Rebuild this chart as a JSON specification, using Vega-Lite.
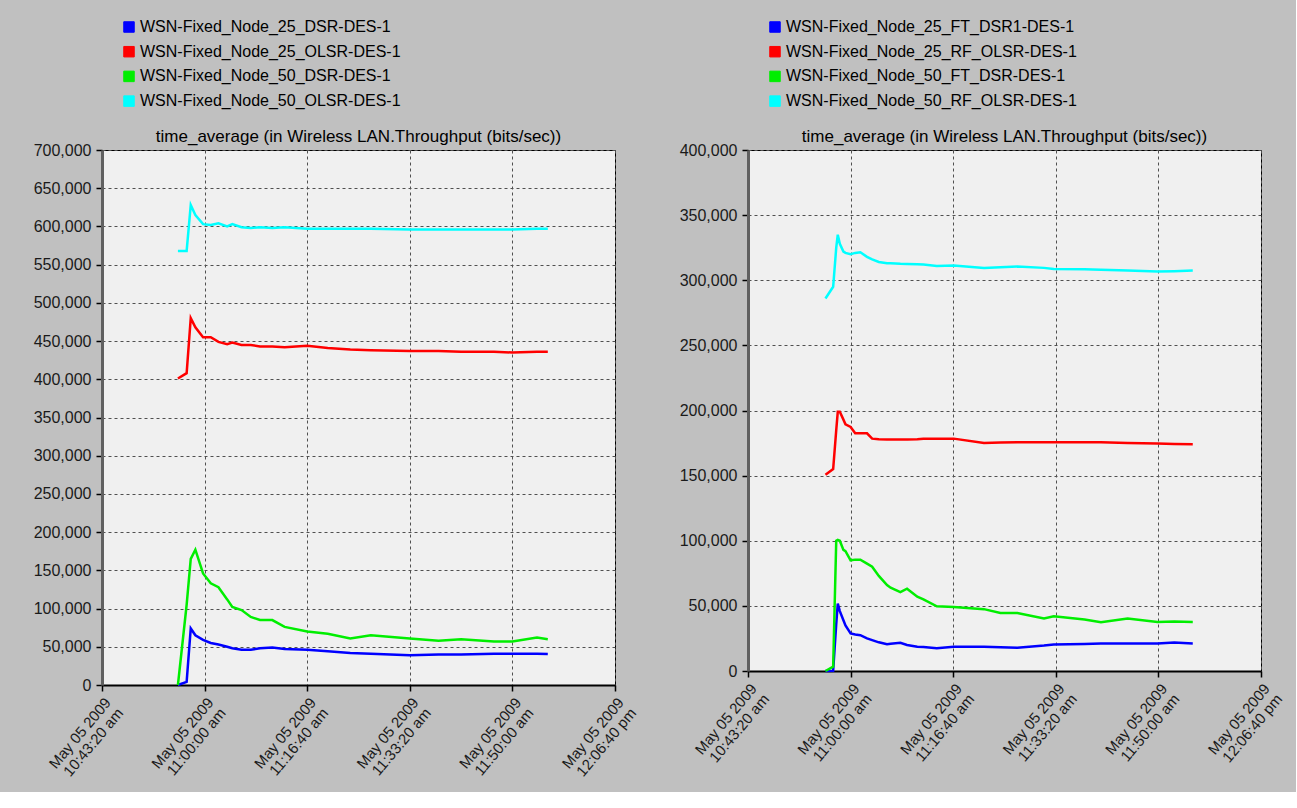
{
  "$schema": "https://vega.github.io/schema/vega-lite/v6.json",
  "background": "#c0c0c0",
  "padding": {"left": 32, "top": 18, "right": 10, "bottom": 10},
  "spacing": 133,
  "bounds": "flush",
  "config": {
    "font": "Liberation Sans",
    "view": {"fill": "#f0f0f0", "stroke": "#000000", "strokeWidth": 1},
    "axis": {
      "grid": true, "gridColor": "#505050", "gridDash": [3, 3], "gridWidth": 1,
      "domainColor": "#303030", "domainWidth": 2,
      "tickColor": "#000000", "tickSize": 6, "tickWidth": 1.5,
      "labelColor": "#1a1a1a", "labelFontSize": 16, "labelPadding": 5,
      "title": null
    },
    "title": {"fontSize": 17, "fontWeight": "normal", "color": "#000000", "anchor": "middle", "frame": "group"},
    "legend": {
      "orient": "none", "title": null, "symbolType": "square", "symbolSize": 110,
      "labelFontSize": 16, "labelColor": "#000000", "rowPadding": 8.7, "labelOffset": 3, "labelLimit": 0
    }
  },
  "hconcat": [
    {
      "width": 513, "height": 535,
      "title": {"text": "time_average (in Wireless LAN.Throughput (bits/sec))", "offset": 6, "dy": 133},
      "data": {"values": [
        {"t": "2009-05-05T10:55:40", "s": "WSN-Fixed_Node_25_DSR-DES-1", "v": 0},
        {"t": "2009-05-05T10:57:05", "s": "WSN-Fixed_Node_25_DSR-DES-1", "v": 4000},
        {"t": "2009-05-05T10:57:45", "s": "WSN-Fixed_Node_25_DSR-DES-1", "v": 74000},
        {"t": "2009-05-05T10:58:30", "s": "WSN-Fixed_Node_25_DSR-DES-1", "v": 65000},
        {"t": "2009-05-05T10:59:45", "s": "WSN-Fixed_Node_25_DSR-DES-1", "v": 59000},
        {"t": "2009-05-05T11:01:00", "s": "WSN-Fixed_Node_25_DSR-DES-1", "v": 55000},
        {"t": "2009-05-05T11:02:15", "s": "WSN-Fixed_Node_25_DSR-DES-1", "v": 53000},
        {"t": "2009-05-05T11:03:40", "s": "WSN-Fixed_Node_25_DSR-DES-1", "v": 50000},
        {"t": "2009-05-05T11:04:30", "s": "WSN-Fixed_Node_25_DSR-DES-1", "v": 48000},
        {"t": "2009-05-05T11:06:00", "s": "WSN-Fixed_Node_25_DSR-DES-1", "v": 46000},
        {"t": "2009-05-05T11:07:30", "s": "WSN-Fixed_Node_25_DSR-DES-1", "v": 46000},
        {"t": "2009-05-05T11:09:00", "s": "WSN-Fixed_Node_25_DSR-DES-1", "v": 48000},
        {"t": "2009-05-05T11:11:00", "s": "WSN-Fixed_Node_25_DSR-DES-1", "v": 49000},
        {"t": "2009-05-05T11:13:00", "s": "WSN-Fixed_Node_25_DSR-DES-1", "v": 47000},
        {"t": "2009-05-05T11:16:40", "s": "WSN-Fixed_Node_25_DSR-DES-1", "v": 46000},
        {"t": "2009-05-05T11:20:00", "s": "WSN-Fixed_Node_25_DSR-DES-1", "v": 44000},
        {"t": "2009-05-05T11:23:40", "s": "WSN-Fixed_Node_25_DSR-DES-1", "v": 42000},
        {"t": "2009-05-05T11:27:00", "s": "WSN-Fixed_Node_25_DSR-DES-1", "v": 41000},
        {"t": "2009-05-05T11:33:20", "s": "WSN-Fixed_Node_25_DSR-DES-1", "v": 39000},
        {"t": "2009-05-05T11:38:00", "s": "WSN-Fixed_Node_25_DSR-DES-1", "v": 40000},
        {"t": "2009-05-05T11:41:40", "s": "WSN-Fixed_Node_25_DSR-DES-1", "v": 40000},
        {"t": "2009-05-05T11:47:00", "s": "WSN-Fixed_Node_25_DSR-DES-1", "v": 41000},
        {"t": "2009-05-05T11:50:00", "s": "WSN-Fixed_Node_25_DSR-DES-1", "v": 41000},
        {"t": "2009-05-05T11:54:00", "s": "WSN-Fixed_Node_25_DSR-DES-1", "v": 41000},
        {"t": "2009-05-05T11:55:45", "s": "WSN-Fixed_Node_25_DSR-DES-1", "v": 40500},

        {"t": "2009-05-05T10:55:40", "s": "WSN-Fixed_Node_25_OLSR-DES-1", "v": 401000},
        {"t": "2009-05-05T10:57:05", "s": "WSN-Fixed_Node_25_OLSR-DES-1", "v": 408000},
        {"t": "2009-05-05T10:57:45", "s": "WSN-Fixed_Node_25_OLSR-DES-1", "v": 480000},
        {"t": "2009-05-05T10:58:30", "s": "WSN-Fixed_Node_25_OLSR-DES-1", "v": 468000},
        {"t": "2009-05-05T10:59:45", "s": "WSN-Fixed_Node_25_OLSR-DES-1", "v": 455000},
        {"t": "2009-05-05T11:01:00", "s": "WSN-Fixed_Node_25_OLSR-DES-1", "v": 455000},
        {"t": "2009-05-05T11:02:15", "s": "WSN-Fixed_Node_25_OLSR-DES-1", "v": 449000},
        {"t": "2009-05-05T11:03:40", "s": "WSN-Fixed_Node_25_OLSR-DES-1", "v": 446000},
        {"t": "2009-05-05T11:04:30", "s": "WSN-Fixed_Node_25_OLSR-DES-1", "v": 448000},
        {"t": "2009-05-05T11:06:00", "s": "WSN-Fixed_Node_25_OLSR-DES-1", "v": 445000},
        {"t": "2009-05-05T11:07:30", "s": "WSN-Fixed_Node_25_OLSR-DES-1", "v": 445000},
        {"t": "2009-05-05T11:09:00", "s": "WSN-Fixed_Node_25_OLSR-DES-1", "v": 443000},
        {"t": "2009-05-05T11:11:00", "s": "WSN-Fixed_Node_25_OLSR-DES-1", "v": 443000},
        {"t": "2009-05-05T11:13:00", "s": "WSN-Fixed_Node_25_OLSR-DES-1", "v": 442000},
        {"t": "2009-05-05T11:16:40", "s": "WSN-Fixed_Node_25_OLSR-DES-1", "v": 444000},
        {"t": "2009-05-05T11:20:00", "s": "WSN-Fixed_Node_25_OLSR-DES-1", "v": 441000},
        {"t": "2009-05-05T11:23:40", "s": "WSN-Fixed_Node_25_OLSR-DES-1", "v": 439000},
        {"t": "2009-05-05T11:27:00", "s": "WSN-Fixed_Node_25_OLSR-DES-1", "v": 438000},
        {"t": "2009-05-05T11:33:20", "s": "WSN-Fixed_Node_25_OLSR-DES-1", "v": 437000},
        {"t": "2009-05-05T11:38:00", "s": "WSN-Fixed_Node_25_OLSR-DES-1", "v": 437000},
        {"t": "2009-05-05T11:41:40", "s": "WSN-Fixed_Node_25_OLSR-DES-1", "v": 436000},
        {"t": "2009-05-05T11:47:00", "s": "WSN-Fixed_Node_25_OLSR-DES-1", "v": 436000},
        {"t": "2009-05-05T11:50:00", "s": "WSN-Fixed_Node_25_OLSR-DES-1", "v": 435000},
        {"t": "2009-05-05T11:54:00", "s": "WSN-Fixed_Node_25_OLSR-DES-1", "v": 436000},
        {"t": "2009-05-05T11:55:45", "s": "WSN-Fixed_Node_25_OLSR-DES-1", "v": 436000},

        {"t": "2009-05-05T10:55:40", "s": "WSN-Fixed_Node_50_DSR-DES-1", "v": 0},
        {"t": "2009-05-05T10:57:05", "s": "WSN-Fixed_Node_50_DSR-DES-1", "v": 105000},
        {"t": "2009-05-05T10:57:45", "s": "WSN-Fixed_Node_50_DSR-DES-1", "v": 165000},
        {"t": "2009-05-05T10:58:30", "s": "WSN-Fixed_Node_50_DSR-DES-1", "v": 177000},
        {"t": "2009-05-05T10:59:45", "s": "WSN-Fixed_Node_50_DSR-DES-1", "v": 146000},
        {"t": "2009-05-05T11:01:00", "s": "WSN-Fixed_Node_50_DSR-DES-1", "v": 133000},
        {"t": "2009-05-05T11:02:15", "s": "WSN-Fixed_Node_50_DSR-DES-1", "v": 128000},
        {"t": "2009-05-05T11:03:40", "s": "WSN-Fixed_Node_50_DSR-DES-1", "v": 112000},
        {"t": "2009-05-05T11:04:30", "s": "WSN-Fixed_Node_50_DSR-DES-1", "v": 102000},
        {"t": "2009-05-05T11:06:00", "s": "WSN-Fixed_Node_50_DSR-DES-1", "v": 98000},
        {"t": "2009-05-05T11:07:30", "s": "WSN-Fixed_Node_50_DSR-DES-1", "v": 89000},
        {"t": "2009-05-05T11:09:00", "s": "WSN-Fixed_Node_50_DSR-DES-1", "v": 85000},
        {"t": "2009-05-05T11:11:00", "s": "WSN-Fixed_Node_50_DSR-DES-1", "v": 85000},
        {"t": "2009-05-05T11:13:00", "s": "WSN-Fixed_Node_50_DSR-DES-1", "v": 76000},
        {"t": "2009-05-05T11:16:40", "s": "WSN-Fixed_Node_50_DSR-DES-1", "v": 70000},
        {"t": "2009-05-05T11:20:00", "s": "WSN-Fixed_Node_50_DSR-DES-1", "v": 67000},
        {"t": "2009-05-05T11:23:40", "s": "WSN-Fixed_Node_50_DSR-DES-1", "v": 61000},
        {"t": "2009-05-05T11:27:00", "s": "WSN-Fixed_Node_50_DSR-DES-1", "v": 65000},
        {"t": "2009-05-05T11:33:20", "s": "WSN-Fixed_Node_50_DSR-DES-1", "v": 61000},
        {"t": "2009-05-05T11:38:00", "s": "WSN-Fixed_Node_50_DSR-DES-1", "v": 58000},
        {"t": "2009-05-05T11:41:40", "s": "WSN-Fixed_Node_50_DSR-DES-1", "v": 60000},
        {"t": "2009-05-05T11:47:00", "s": "WSN-Fixed_Node_50_DSR-DES-1", "v": 57000},
        {"t": "2009-05-05T11:50:00", "s": "WSN-Fixed_Node_50_DSR-DES-1", "v": 57000},
        {"t": "2009-05-05T11:54:00", "s": "WSN-Fixed_Node_50_DSR-DES-1", "v": 62000},
        {"t": "2009-05-05T11:55:45", "s": "WSN-Fixed_Node_50_DSR-DES-1", "v": 60000},

        {"t": "2009-05-05T10:55:40", "s": "WSN-Fixed_Node_50_OLSR-DES-1", "v": 568000},
        {"t": "2009-05-05T10:57:05", "s": "WSN-Fixed_Node_50_OLSR-DES-1", "v": 568000},
        {"t": "2009-05-05T10:57:45", "s": "WSN-Fixed_Node_50_OLSR-DES-1", "v": 628000},
        {"t": "2009-05-05T10:58:30", "s": "WSN-Fixed_Node_50_OLSR-DES-1", "v": 615000},
        {"t": "2009-05-05T10:59:45", "s": "WSN-Fixed_Node_50_OLSR-DES-1", "v": 603000},
        {"t": "2009-05-05T11:01:00", "s": "WSN-Fixed_Node_50_OLSR-DES-1", "v": 602000},
        {"t": "2009-05-05T11:02:15", "s": "WSN-Fixed_Node_50_OLSR-DES-1", "v": 604000},
        {"t": "2009-05-05T11:03:40", "s": "WSN-Fixed_Node_50_OLSR-DES-1", "v": 600000},
        {"t": "2009-05-05T11:04:30", "s": "WSN-Fixed_Node_50_OLSR-DES-1", "v": 603000},
        {"t": "2009-05-05T11:06:00", "s": "WSN-Fixed_Node_50_OLSR-DES-1", "v": 599000},
        {"t": "2009-05-05T11:07:30", "s": "WSN-Fixed_Node_50_OLSR-DES-1", "v": 598000},
        {"t": "2009-05-05T11:09:00", "s": "WSN-Fixed_Node_50_OLSR-DES-1", "v": 599000},
        {"t": "2009-05-05T11:11:00", "s": "WSN-Fixed_Node_50_OLSR-DES-1", "v": 598000},
        {"t": "2009-05-05T11:13:00", "s": "WSN-Fixed_Node_50_OLSR-DES-1", "v": 599000},
        {"t": "2009-05-05T11:16:40", "s": "WSN-Fixed_Node_50_OLSR-DES-1", "v": 597000},
        {"t": "2009-05-05T11:20:00", "s": "WSN-Fixed_Node_50_OLSR-DES-1", "v": 597000},
        {"t": "2009-05-05T11:23:40", "s": "WSN-Fixed_Node_50_OLSR-DES-1", "v": 597000},
        {"t": "2009-05-05T11:27:00", "s": "WSN-Fixed_Node_50_OLSR-DES-1", "v": 597000},
        {"t": "2009-05-05T11:33:20", "s": "WSN-Fixed_Node_50_OLSR-DES-1", "v": 596000},
        {"t": "2009-05-05T11:38:00", "s": "WSN-Fixed_Node_50_OLSR-DES-1", "v": 596000},
        {"t": "2009-05-05T11:41:40", "s": "WSN-Fixed_Node_50_OLSR-DES-1", "v": 596000},
        {"t": "2009-05-05T11:47:00", "s": "WSN-Fixed_Node_50_OLSR-DES-1", "v": 596000},
        {"t": "2009-05-05T11:50:00", "s": "WSN-Fixed_Node_50_OLSR-DES-1", "v": 596000},
        {"t": "2009-05-05T11:54:00", "s": "WSN-Fixed_Node_50_OLSR-DES-1", "v": 597000},
        {"t": "2009-05-05T11:55:45", "s": "WSN-Fixed_Node_50_OLSR-DES-1", "v": 597000}
      ]},
      "mark": {"type": "line", "strokeWidth": 2.5},
      "encoding": {
        "x": {
          "field": "t", "type": "temporal",
          "scale": {"domain": [
            {"year": 2009, "month": 5, "date": 5, "hours": 10, "minutes": 43, "seconds": 20},
            {"year": 2009, "month": 5, "date": 5, "hours": 12, "minutes": 6, "seconds": 40}
          ]},
          "axis": {
            "values": [
              {"year": 2009, "month": 5, "date": 5, "hours": 10, "minutes": 43, "seconds": 20},
              {"year": 2009, "month": 5, "date": 5, "hours": 11, "minutes": 0, "seconds": 0},
              {"year": 2009, "month": 5, "date": 5, "hours": 11, "minutes": 16, "seconds": 40},
              {"year": 2009, "month": 5, "date": 5, "hours": 11, "minutes": 33, "seconds": 20},
              {"year": 2009, "month": 5, "date": 5, "hours": 11, "minutes": 50, "seconds": 0},
              {"year": 2009, "month": 5, "date": 5, "hours": 12, "minutes": 6, "seconds": 40}
            ],
            "labelExpr": "[timeFormat(datum.value, '%b %d %Y'), timeFormat(datum.value, '%I:%M:%S ') + lower(timeFormat(datum.value, '%p'))]",
            "labelAngle": -50, "labelAlign": "right", "labelBaseline": "top",
            "labelFontSize": 15, "labelLineHeight": 16, "labelPadding": 4, "domainColor": "#000000"
          }
        },
        "y": {
          "field": "v", "type": "quantitative",
          "scale": {"domain": [0, 700000]},
          "axis": {"values": [0, 50000, 100000, 150000, 200000, 250000, 300000, 350000, 400000, 450000, 500000, 550000, 600000, 650000, 700000], "format": ",d", "domainColor": "#606060", "domainWidth": 3}
        },
        "color": {
          "field": "s", "type": "nominal",
          "scale": {
            "domain": ["WSN-Fixed_Node_25_DSR-DES-1", "WSN-Fixed_Node_25_OLSR-DES-1", "WSN-Fixed_Node_50_DSR-DES-1", "WSN-Fixed_Node_50_OLSR-DES-1"],
            "range": ["#0000ff", "#ff0000", "#00ee00", "#00ffff"]
          },
          "legend": {
            "legendX": 19, "legendY": -131,
            "encode": {"symbols": {"update": {"fill": {"signal": "['#0000ff', '#ff0000', '#00ee00', '#00ffff'][datum.index]"}, "stroke": {"value": "#000000"}, "strokeWidth": {"value": 1}, "opacity": {"value": 1}}}}
          }
        }
      }
    },
    {
      "width": 513, "height": 521,
      "title": {"text": "time_average (in Wireless LAN.Throughput (bits/sec))", "offset": 6, "dy": 133},
      "data": {"values": [
        {"t": "2009-05-05T10:55:55", "s": "WSN-Fixed_Node_25_FT_DSR1-DES-1", "v": 0},
        {"t": "2009-05-05T10:57:10", "s": "WSN-Fixed_Node_25_FT_DSR1-DES-1", "v": 200},
        {"t": "2009-05-05T10:57:40", "s": "WSN-Fixed_Node_25_FT_DSR1-DES-1", "v": 36000},
        {"t": "2009-05-05T10:57:55", "s": "WSN-Fixed_Node_25_FT_DSR1-DES-1", "v": 51800},
        {"t": "2009-05-05T10:58:15", "s": "WSN-Fixed_Node_25_FT_DSR1-DES-1", "v": 46000},
        {"t": "2009-05-05T10:58:50", "s": "WSN-Fixed_Node_25_FT_DSR1-DES-1", "v": 39000},
        {"t": "2009-05-05T10:59:10", "s": "WSN-Fixed_Node_25_FT_DSR1-DES-1", "v": 35000},
        {"t": "2009-05-05T11:00:00", "s": "WSN-Fixed_Node_25_FT_DSR1-DES-1", "v": 28800},
        {"t": "2009-05-05T11:00:45", "s": "WSN-Fixed_Node_25_FT_DSR1-DES-1", "v": 28000},
        {"t": "2009-05-05T11:01:35", "s": "WSN-Fixed_Node_25_FT_DSR1-DES-1", "v": 27500},
        {"t": "2009-05-05T11:02:40", "s": "WSN-Fixed_Node_25_FT_DSR1-DES-1", "v": 25000},
        {"t": "2009-05-05T11:03:30", "s": "WSN-Fixed_Node_25_FT_DSR1-DES-1", "v": 23700},
        {"t": "2009-05-05T11:04:35", "s": "WSN-Fixed_Node_25_FT_DSR1-DES-1", "v": 22000},
        {"t": "2009-05-05T11:05:55", "s": "WSN-Fixed_Node_25_FT_DSR1-DES-1", "v": 20600},
        {"t": "2009-05-05T11:06:30", "s": "WSN-Fixed_Node_25_FT_DSR1-DES-1", "v": 21000},
        {"t": "2009-05-05T11:08:05", "s": "WSN-Fixed_Node_25_FT_DSR1-DES-1", "v": 21600},
        {"t": "2009-05-05T11:09:10", "s": "WSN-Fixed_Node_25_FT_DSR1-DES-1", "v": 20000},
        {"t": "2009-05-05T11:10:50", "s": "WSN-Fixed_Node_25_FT_DSR1-DES-1", "v": 18600},
        {"t": "2009-05-05T11:11:50", "s": "WSN-Fixed_Node_25_FT_DSR1-DES-1", "v": 18500},
        {"t": "2009-05-05T11:14:00", "s": "WSN-Fixed_Node_25_FT_DSR1-DES-1", "v": 17400},
        {"t": "2009-05-05T11:16:45", "s": "WSN-Fixed_Node_25_FT_DSR1-DES-1", "v": 18600},
        {"t": "2009-05-05T11:21:40", "s": "WSN-Fixed_Node_25_FT_DSR1-DES-1", "v": 18600},
        {"t": "2009-05-05T11:24:20", "s": "WSN-Fixed_Node_25_FT_DSR1-DES-1", "v": 18200},
        {"t": "2009-05-05T11:27:05", "s": "WSN-Fixed_Node_25_FT_DSR1-DES-1", "v": 17800},
        {"t": "2009-05-05T11:31:25", "s": "WSN-Fixed_Node_25_FT_DSR1-DES-1", "v": 19500},
        {"t": "2009-05-05T11:33:00", "s": "WSN-Fixed_Node_25_FT_DSR1-DES-1", "v": 20400},
        {"t": "2009-05-05T11:38:00", "s": "WSN-Fixed_Node_25_FT_DSR1-DES-1", "v": 20800},
        {"t": "2009-05-05T11:40:40", "s": "WSN-Fixed_Node_25_FT_DSR1-DES-1", "v": 21200},
        {"t": "2009-05-05T11:45:00", "s": "WSN-Fixed_Node_25_FT_DSR1-DES-1", "v": 21200},
        {"t": "2009-05-05T11:49:50", "s": "WSN-Fixed_Node_25_FT_DSR1-DES-1", "v": 21200},
        {"t": "2009-05-05T11:52:35", "s": "WSN-Fixed_Node_25_FT_DSR1-DES-1", "v": 21900},
        {"t": "2009-05-05T11:55:35", "s": "WSN-Fixed_Node_25_FT_DSR1-DES-1", "v": 21200},

        {"t": "2009-05-05T10:55:55", "s": "WSN-Fixed_Node_25_RF_OLSR-DES-1", "v": 150700},
        {"t": "2009-05-05T10:57:10", "s": "WSN-Fixed_Node_25_RF_OLSR-DES-1", "v": 155000},
        {"t": "2009-05-05T10:57:40", "s": "WSN-Fixed_Node_25_RF_OLSR-DES-1", "v": 185000},
        {"t": "2009-05-05T10:57:55", "s": "WSN-Fixed_Node_25_RF_OLSR-DES-1", "v": 199000},
        {"t": "2009-05-05T10:58:15", "s": "WSN-Fixed_Node_25_RF_OLSR-DES-1", "v": 199000},
        {"t": "2009-05-05T10:58:50", "s": "WSN-Fixed_Node_25_RF_OLSR-DES-1", "v": 193000},
        {"t": "2009-05-05T10:59:10", "s": "WSN-Fixed_Node_25_RF_OLSR-DES-1", "v": 189400},
        {"t": "2009-05-05T11:00:00", "s": "WSN-Fixed_Node_25_RF_OLSR-DES-1", "v": 187400},
        {"t": "2009-05-05T11:00:45", "s": "WSN-Fixed_Node_25_RF_OLSR-DES-1", "v": 182500},
        {"t": "2009-05-05T11:01:35", "s": "WSN-Fixed_Node_25_RF_OLSR-DES-1", "v": 182500},
        {"t": "2009-05-05T11:02:40", "s": "WSN-Fixed_Node_25_RF_OLSR-DES-1", "v": 182500},
        {"t": "2009-05-05T11:03:30", "s": "WSN-Fixed_Node_25_RF_OLSR-DES-1", "v": 178400},
        {"t": "2009-05-05T11:04:35", "s": "WSN-Fixed_Node_25_RF_OLSR-DES-1", "v": 178000},
        {"t": "2009-05-05T11:05:55", "s": "WSN-Fixed_Node_25_RF_OLSR-DES-1", "v": 177700},
        {"t": "2009-05-05T11:06:30", "s": "WSN-Fixed_Node_25_RF_OLSR-DES-1", "v": 177700},
        {"t": "2009-05-05T11:08:05", "s": "WSN-Fixed_Node_25_RF_OLSR-DES-1", "v": 177700},
        {"t": "2009-05-05T11:09:10", "s": "WSN-Fixed_Node_25_RF_OLSR-DES-1", "v": 177700},
        {"t": "2009-05-05T11:10:50", "s": "WSN-Fixed_Node_25_RF_OLSR-DES-1", "v": 178000},
        {"t": "2009-05-05T11:11:50", "s": "WSN-Fixed_Node_25_RF_OLSR-DES-1", "v": 178400},
        {"t": "2009-05-05T11:14:00", "s": "WSN-Fixed_Node_25_RF_OLSR-DES-1", "v": 178400},
        {"t": "2009-05-05T11:16:45", "s": "WSN-Fixed_Node_25_RF_OLSR-DES-1", "v": 178400},
        {"t": "2009-05-05T11:21:40", "s": "WSN-Fixed_Node_25_RF_OLSR-DES-1", "v": 175000},
        {"t": "2009-05-05T11:24:20", "s": "WSN-Fixed_Node_25_RF_OLSR-DES-1", "v": 175500},
        {"t": "2009-05-05T11:27:05", "s": "WSN-Fixed_Node_25_RF_OLSR-DES-1", "v": 175600},
        {"t": "2009-05-05T11:31:25", "s": "WSN-Fixed_Node_25_RF_OLSR-DES-1", "v": 175600},
        {"t": "2009-05-05T11:33:00", "s": "WSN-Fixed_Node_25_RF_OLSR-DES-1", "v": 175600},
        {"t": "2009-05-05T11:38:00", "s": "WSN-Fixed_Node_25_RF_OLSR-DES-1", "v": 175600},
        {"t": "2009-05-05T11:40:40", "s": "WSN-Fixed_Node_25_RF_OLSR-DES-1", "v": 175600},
        {"t": "2009-05-05T11:45:00", "s": "WSN-Fixed_Node_25_RF_OLSR-DES-1", "v": 175000},
        {"t": "2009-05-05T11:49:50", "s": "WSN-Fixed_Node_25_RF_OLSR-DES-1", "v": 174600},
        {"t": "2009-05-05T11:52:35", "s": "WSN-Fixed_Node_25_RF_OLSR-DES-1", "v": 174300},
        {"t": "2009-05-05T11:55:35", "s": "WSN-Fixed_Node_25_RF_OLSR-DES-1", "v": 174100},

        {"t": "2009-05-05T10:55:55", "s": "WSN-Fixed_Node_50_FT_DSR-DES-1", "v": 0},
        {"t": "2009-05-05T10:57:10", "s": "WSN-Fixed_Node_50_FT_DSR-DES-1", "v": 3300},
        {"t": "2009-05-05T10:57:40", "s": "WSN-Fixed_Node_50_FT_DSR-DES-1", "v": 100000},
        {"t": "2009-05-05T10:57:55", "s": "WSN-Fixed_Node_50_FT_DSR-DES-1", "v": 100700},
        {"t": "2009-05-05T10:58:15", "s": "WSN-Fixed_Node_50_FT_DSR-DES-1", "v": 100000},
        {"t": "2009-05-05T10:58:50", "s": "WSN-Fixed_Node_50_FT_DSR-DES-1", "v": 93000},
        {"t": "2009-05-05T10:59:10", "s": "WSN-Fixed_Node_50_FT_DSR-DES-1", "v": 92000},
        {"t": "2009-05-05T11:00:00", "s": "WSN-Fixed_Node_50_FT_DSR-DES-1", "v": 85000},
        {"t": "2009-05-05T11:00:45", "s": "WSN-Fixed_Node_50_FT_DSR-DES-1", "v": 85500},
        {"t": "2009-05-05T11:01:35", "s": "WSN-Fixed_Node_50_FT_DSR-DES-1", "v": 85500},
        {"t": "2009-05-05T11:02:40", "s": "WSN-Fixed_Node_50_FT_DSR-DES-1", "v": 82400},
        {"t": "2009-05-05T11:03:30", "s": "WSN-Fixed_Node_50_FT_DSR-DES-1", "v": 80000},
        {"t": "2009-05-05T11:04:35", "s": "WSN-Fixed_Node_50_FT_DSR-DES-1", "v": 73000},
        {"t": "2009-05-05T11:05:55", "s": "WSN-Fixed_Node_50_FT_DSR-DES-1", "v": 66000},
        {"t": "2009-05-05T11:06:30", "s": "WSN-Fixed_Node_50_FT_DSR-DES-1", "v": 64000},
        {"t": "2009-05-05T11:08:05", "s": "WSN-Fixed_Node_50_FT_DSR-DES-1", "v": 60600},
        {"t": "2009-05-05T11:09:10", "s": "WSN-Fixed_Node_50_FT_DSR-DES-1", "v": 63200},
        {"t": "2009-05-05T11:10:50", "s": "WSN-Fixed_Node_50_FT_DSR-DES-1", "v": 57000},
        {"t": "2009-05-05T11:11:50", "s": "WSN-Fixed_Node_50_FT_DSR-DES-1", "v": 55000},
        {"t": "2009-05-05T11:14:00", "s": "WSN-Fixed_Node_50_FT_DSR-DES-1", "v": 49700},
        {"t": "2009-05-05T11:16:45", "s": "WSN-Fixed_Node_50_FT_DSR-DES-1", "v": 49200},
        {"t": "2009-05-05T11:21:40", "s": "WSN-Fixed_Node_50_FT_DSR-DES-1", "v": 47500},
        {"t": "2009-05-05T11:24:20", "s": "WSN-Fixed_Node_50_FT_DSR-DES-1", "v": 44600},
        {"t": "2009-05-05T11:27:05", "s": "WSN-Fixed_Node_50_FT_DSR-DES-1", "v": 44600},
        {"t": "2009-05-05T11:31:25", "s": "WSN-Fixed_Node_50_FT_DSR-DES-1", "v": 40300},
        {"t": "2009-05-05T11:33:00", "s": "WSN-Fixed_Node_50_FT_DSR-DES-1", "v": 42000},
        {"t": "2009-05-05T11:38:00", "s": "WSN-Fixed_Node_50_FT_DSR-DES-1", "v": 39500},
        {"t": "2009-05-05T11:40:40", "s": "WSN-Fixed_Node_50_FT_DSR-DES-1", "v": 37500},
        {"t": "2009-05-05T11:45:00", "s": "WSN-Fixed_Node_50_FT_DSR-DES-1", "v": 40300},
        {"t": "2009-05-05T11:49:50", "s": "WSN-Fixed_Node_50_FT_DSR-DES-1", "v": 37700},
        {"t": "2009-05-05T11:52:35", "s": "WSN-Fixed_Node_50_FT_DSR-DES-1", "v": 38000},
        {"t": "2009-05-05T11:55:35", "s": "WSN-Fixed_Node_50_FT_DSR-DES-1", "v": 37700},

        {"t": "2009-05-05T10:55:55", "s": "WSN-Fixed_Node_50_RF_OLSR-DES-1", "v": 286000},
        {"t": "2009-05-05T10:57:10", "s": "WSN-Fixed_Node_50_RF_OLSR-DES-1", "v": 295000},
        {"t": "2009-05-05T10:57:40", "s": "WSN-Fixed_Node_50_RF_OLSR-DES-1", "v": 325000},
        {"t": "2009-05-05T10:57:55", "s": "WSN-Fixed_Node_50_RF_OLSR-DES-1", "v": 335000},
        {"t": "2009-05-05T10:58:15", "s": "WSN-Fixed_Node_50_RF_OLSR-DES-1", "v": 328000},
        {"t": "2009-05-05T10:58:50", "s": "WSN-Fixed_Node_50_RF_OLSR-DES-1", "v": 322000},
        {"t": "2009-05-05T10:59:10", "s": "WSN-Fixed_Node_50_RF_OLSR-DES-1", "v": 321000},
        {"t": "2009-05-05T11:00:00", "s": "WSN-Fixed_Node_50_RF_OLSR-DES-1", "v": 320000},
        {"t": "2009-05-05T11:00:45", "s": "WSN-Fixed_Node_50_RF_OLSR-DES-1", "v": 321000},
        {"t": "2009-05-05T11:01:35", "s": "WSN-Fixed_Node_50_RF_OLSR-DES-1", "v": 321500},
        {"t": "2009-05-05T11:02:40", "s": "WSN-Fixed_Node_50_RF_OLSR-DES-1", "v": 318000},
        {"t": "2009-05-05T11:03:30", "s": "WSN-Fixed_Node_50_RF_OLSR-DES-1", "v": 316000},
        {"t": "2009-05-05T11:04:35", "s": "WSN-Fixed_Node_50_RF_OLSR-DES-1", "v": 314000},
        {"t": "2009-05-05T11:05:55", "s": "WSN-Fixed_Node_50_RF_OLSR-DES-1", "v": 313000},
        {"t": "2009-05-05T11:06:30", "s": "WSN-Fixed_Node_50_RF_OLSR-DES-1", "v": 313000},
        {"t": "2009-05-05T11:08:05", "s": "WSN-Fixed_Node_50_RF_OLSR-DES-1", "v": 312600},
        {"t": "2009-05-05T11:09:10", "s": "WSN-Fixed_Node_50_RF_OLSR-DES-1", "v": 312500},
        {"t": "2009-05-05T11:10:50", "s": "WSN-Fixed_Node_50_RF_OLSR-DES-1", "v": 312300},
        {"t": "2009-05-05T11:11:50", "s": "WSN-Fixed_Node_50_RF_OLSR-DES-1", "v": 312000},
        {"t": "2009-05-05T11:14:00", "s": "WSN-Fixed_Node_50_RF_OLSR-DES-1", "v": 311000},
        {"t": "2009-05-05T11:16:45", "s": "WSN-Fixed_Node_50_RF_OLSR-DES-1", "v": 311300},
        {"t": "2009-05-05T11:21:40", "s": "WSN-Fixed_Node_50_RF_OLSR-DES-1", "v": 309500},
        {"t": "2009-05-05T11:24:20", "s": "WSN-Fixed_Node_50_RF_OLSR-DES-1", "v": 310000},
        {"t": "2009-05-05T11:27:05", "s": "WSN-Fixed_Node_50_RF_OLSR-DES-1", "v": 310500},
        {"t": "2009-05-05T11:31:25", "s": "WSN-Fixed_Node_50_RF_OLSR-DES-1", "v": 309500},
        {"t": "2009-05-05T11:33:00", "s": "WSN-Fixed_Node_50_RF_OLSR-DES-1", "v": 308700},
        {"t": "2009-05-05T11:38:00", "s": "WSN-Fixed_Node_50_RF_OLSR-DES-1", "v": 308500},
        {"t": "2009-05-05T11:40:40", "s": "WSN-Fixed_Node_50_RF_OLSR-DES-1", "v": 308000},
        {"t": "2009-05-05T11:45:00", "s": "WSN-Fixed_Node_50_RF_OLSR-DES-1", "v": 307500},
        {"t": "2009-05-05T11:49:50", "s": "WSN-Fixed_Node_50_RF_OLSR-DES-1", "v": 306700},
        {"t": "2009-05-05T11:52:35", "s": "WSN-Fixed_Node_50_RF_OLSR-DES-1", "v": 307000},
        {"t": "2009-05-05T11:55:35", "s": "WSN-Fixed_Node_50_RF_OLSR-DES-1", "v": 307500}
      ]},
      "mark": {"type": "line", "strokeWidth": 2.5},
      "encoding": {
        "x": {
          "field": "t", "type": "temporal",
          "scale": {"domain": [
            {"year": 2009, "month": 5, "date": 5, "hours": 10, "minutes": 43, "seconds": 20},
            {"year": 2009, "month": 5, "date": 5, "hours": 12, "minutes": 6, "seconds": 40}
          ]},
          "axis": {
            "values": [
              {"year": 2009, "month": 5, "date": 5, "hours": 10, "minutes": 43, "seconds": 20},
              {"year": 2009, "month": 5, "date": 5, "hours": 11, "minutes": 0, "seconds": 0},
              {"year": 2009, "month": 5, "date": 5, "hours": 11, "minutes": 16, "seconds": 40},
              {"year": 2009, "month": 5, "date": 5, "hours": 11, "minutes": 33, "seconds": 20},
              {"year": 2009, "month": 5, "date": 5, "hours": 11, "minutes": 50, "seconds": 0},
              {"year": 2009, "month": 5, "date": 5, "hours": 12, "minutes": 6, "seconds": 40}
            ],
            "labelExpr": "[timeFormat(datum.value, '%b %d %Y'), timeFormat(datum.value, '%I:%M:%S ') + lower(timeFormat(datum.value, '%p'))]",
            "labelAngle": -50, "labelAlign": "right", "labelBaseline": "top",
            "labelFontSize": 15, "labelLineHeight": 16, "labelPadding": 4, "domainColor": "#000000"
          }
        },
        "y": {
          "field": "v", "type": "quantitative",
          "scale": {"domain": [0, 400000]},
          "axis": {"values": [0, 50000, 100000, 150000, 200000, 250000, 300000, 350000, 400000], "format": ",d", "domainColor": "#606060", "domainWidth": 3}
        },
        "color": {
          "field": "s", "type": "nominal",
          "scale": {
            "domain": ["WSN-Fixed_Node_25_FT_DSR1-DES-1", "WSN-Fixed_Node_25_RF_OLSR-DES-1", "WSN-Fixed_Node_50_FT_DSR-DES-1", "WSN-Fixed_Node_50_RF_OLSR-DES-1"],
            "range": ["#0000ff", "#ff0000", "#00ee00", "#00ffff"]
          },
          "legend": {
            "legendX": 19, "legendY": -131,
            "encode": {"symbols": {"update": {"fill": {"signal": "['#0000ff', '#ff0000', '#00ee00', '#00ffff'][datum.index]"}, "stroke": {"value": "#000000"}, "strokeWidth": {"value": 1}, "opacity": {"value": 1}}}}
          }
        }
      }
    }
  ],
  "resolve": {"scale": {"color": "independent", "y": "independent", "x": "independent"}}
}
